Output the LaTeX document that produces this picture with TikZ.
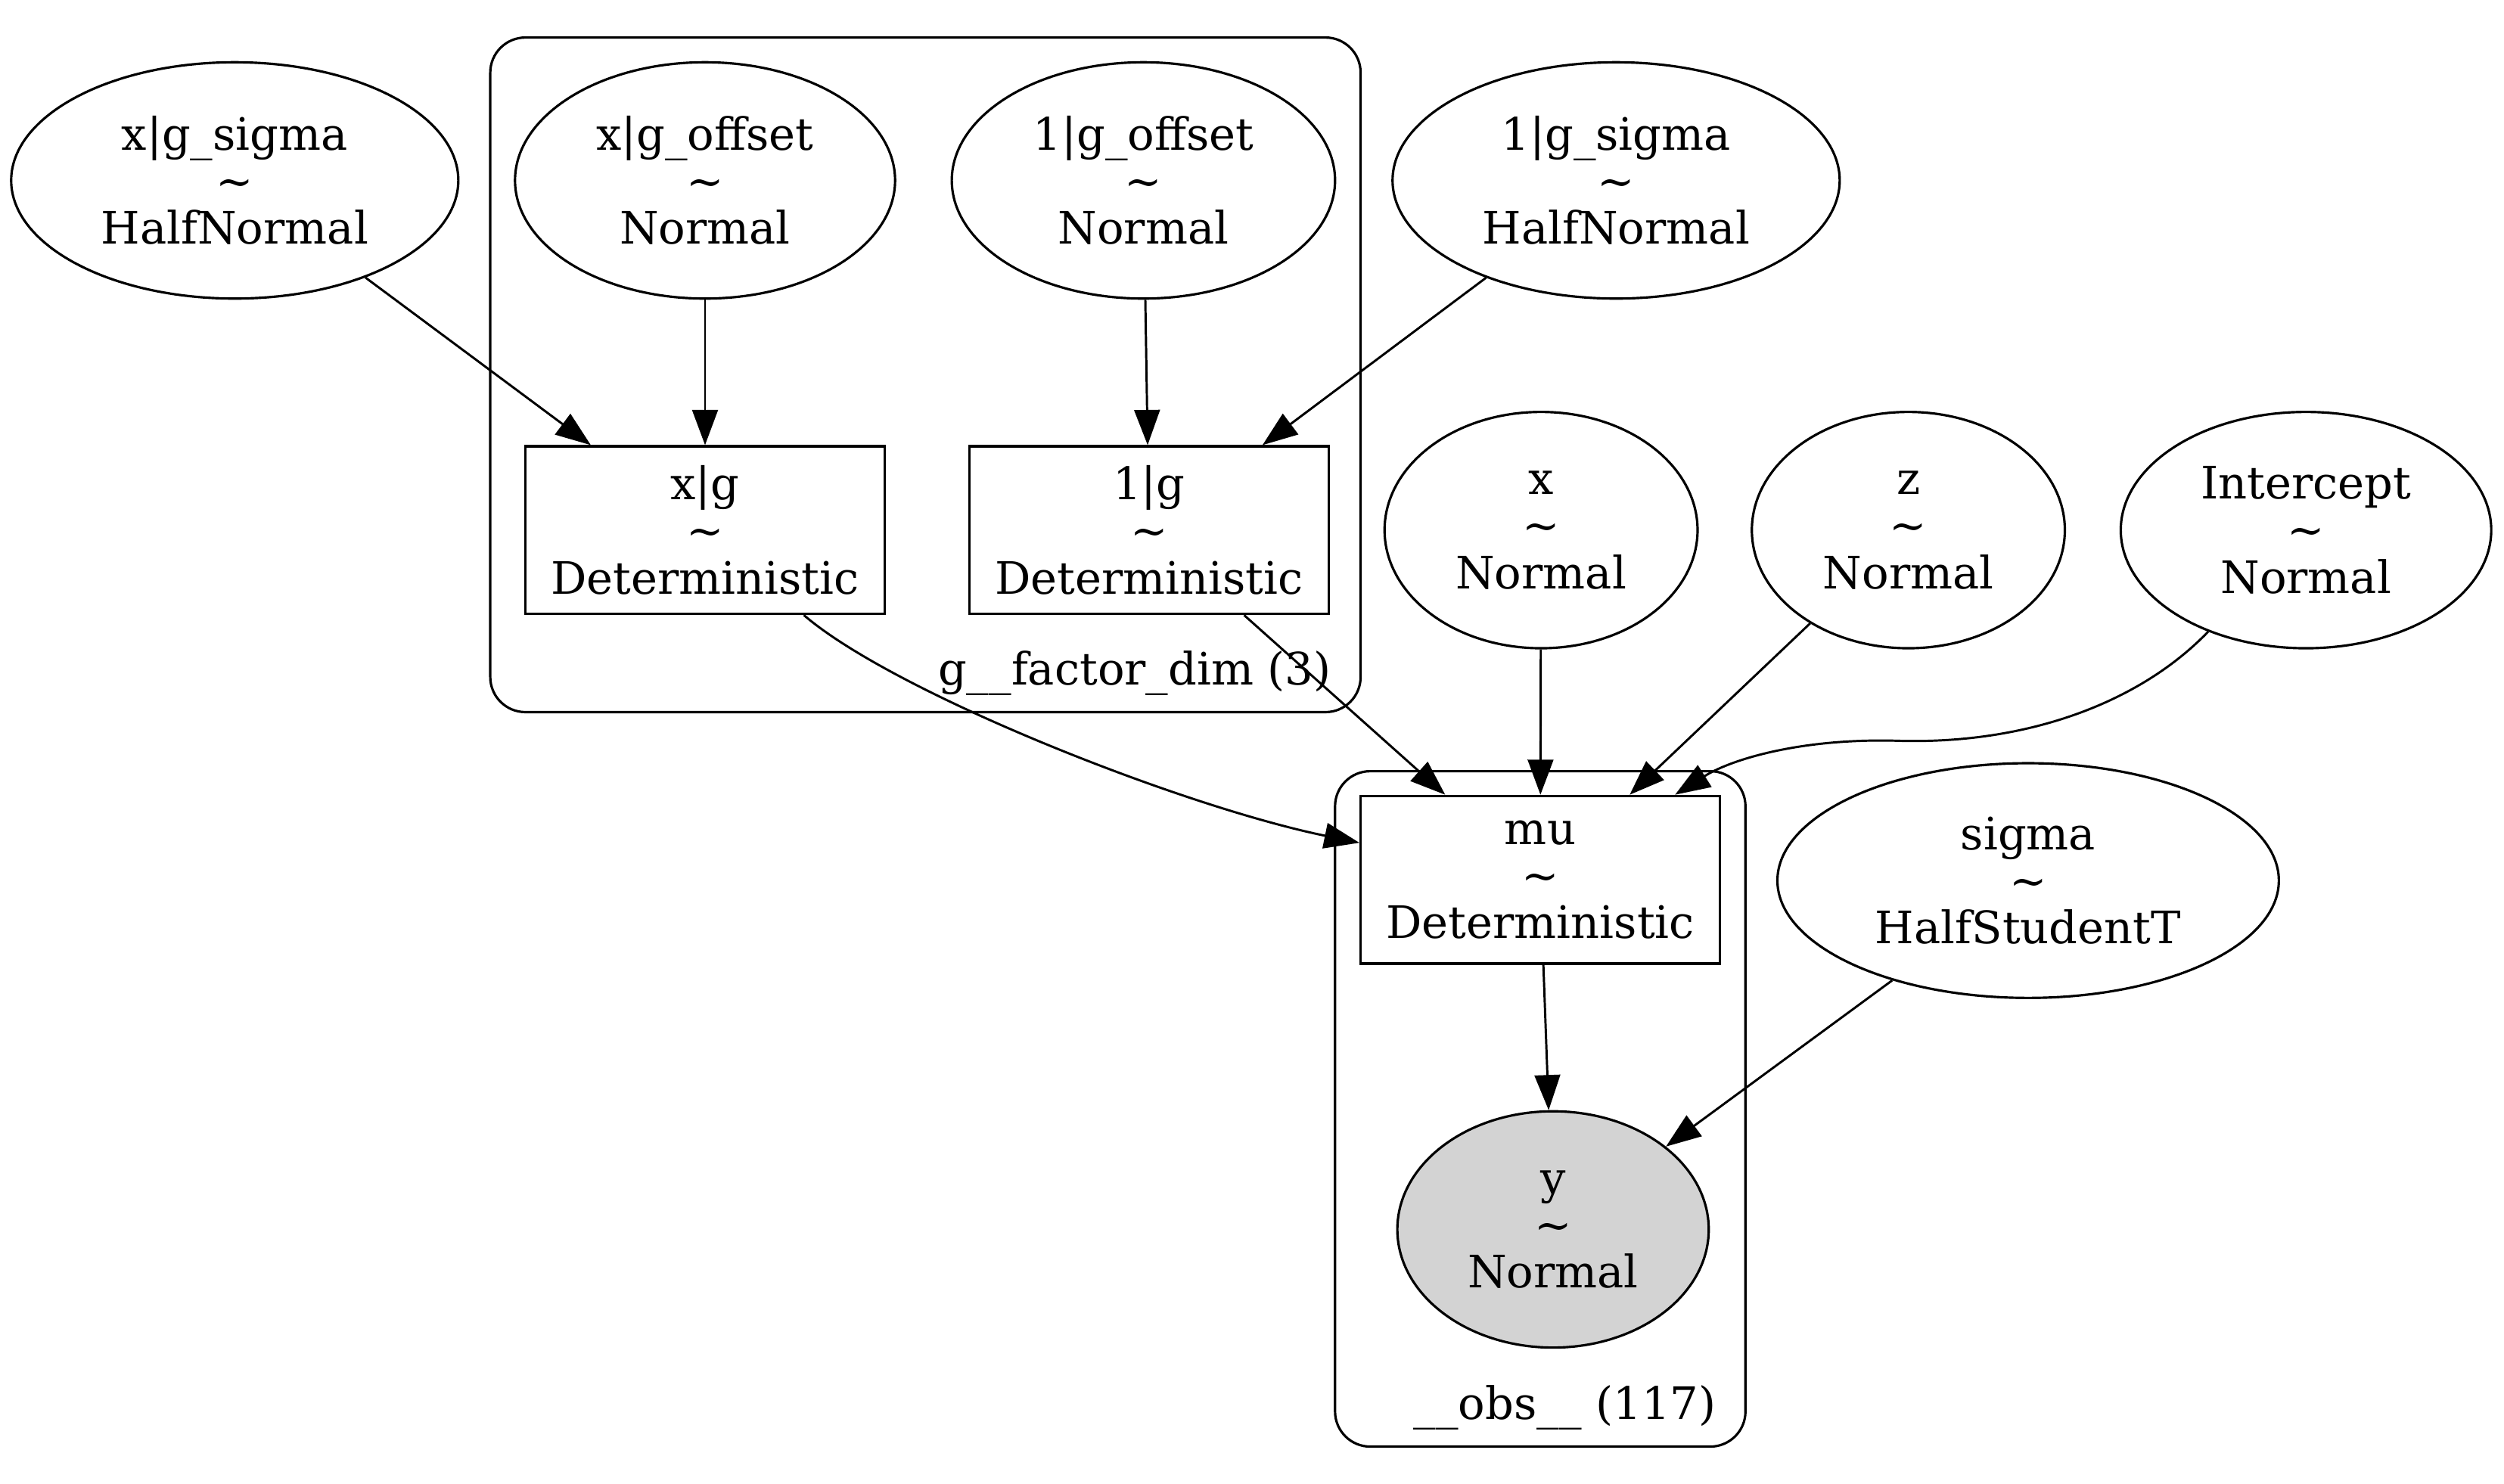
\documentclass[tikz,border=0pt]{standalone}
\usepackage{fontspec}
\setmainfont{DejaVu Serif}
\usetikzlibrary{shapes.geometric,arrows.meta}
\definecolor{obsgray}{RGB}{211,211,211}
\newcommand\dtxt[2]{#1\\\textasciitilde\\#2}
\tikzset{
  rv/.style={ellipse, draw, line width=0.75pt, inner sep=0pt, align=center, minimum height=74pt},
  detbox/.style={rectangle, draw, line width=0.75pt, inner sep=0pt, align=center, minimum width=112.5pt, minimum height=52.5pt},
  plate/.style={draw, rounded corners=11pt, line width=0.75pt},
  edge/.style={-{Triangle[length=11pt,width=8pt]}, line width=0.7pt},
  platelabel/.style={anchor=base east, inner sep=0pt}
}
\begin{document}
\begin{tikzpicture}[x=0.5pt,y=-0.5pt,font=\fontsize{14}{14.75}\selectfont]
\useasboundingbox (0,0) rectangle (1568,929);
% plates
\draw[plate] (307,23.5) rectangle (852,446);
\draw[plate] (836,483) rectangle (1093,906);
\node[platelabel] (lg) at (834,429) {g\_\_factor\_dim (3)};
\node[platelabel] (lo) at (1075,889) {\_\_obs\_\_ (117)};
% nodes
\node[rv, minimum width=140pt] (xgs) at (147,113) {\dtxt{x\textbar g\_sigma}{HalfNormal}};
\node[rv, minimum width=119pt] (xgo) at (441.5,113) {\dtxt{x\textbar g\_offset}{Normal}};
\node[rv, minimum width=120pt] (ogo) at (716,113) {\dtxt{1\textbar g\_offset}{Normal}};
\node[rv, minimum width=140pt] (ogs) at (1012,113) {\dtxt{1\textbar g\_sigma}{HalfNormal}};
\node[detbox] (xg) at (441.5,332) {\dtxt{x\textbar g}{Deterministic}};
\node[detbox] (og) at (719.5,332) {\dtxt{1\textbar g}{Deterministic}};
\node[rv, minimum width=98pt] (x) at (965,332) {\dtxt{x}{Normal}};
\node[rv, minimum width=98pt] (z) at (1195,332) {\dtxt{z}{Normal}};
\node[rv, minimum width=116pt] (icpt) at (1444,332) {\dtxt{Intercept}{Normal}};
\node[detbox] (mu) at (964.5,551) {\dtxt{mu}{Deterministic}};
\node[rv, minimum width=157pt, minimum height=73.5pt] (sig) at (1270,551.5) {\dtxt{sigma}{HalfStudentT}};
\node[rv, fill=obsgray, minimum width=97.5pt] (y) at (972.5,770) {\dtxt{y}{Normal}};
% edges
\draw[edge] (xgs) -- (xg);
\draw[edge] (xgo) -- (xg);
\draw[edge] (ogo) -- (og);
\draw[edge] (ogs) -- (og);
\draw[edge] (xg) .. controls (560,434) and (740,505) .. (mu);
\draw[edge] (og) -- (mu);
\draw[edge] (x) -- (mu);
\draw[edge] (z) -- (mu);
\draw[edge] (icpt) .. controls (1340,440) and (1270,466) .. (1190,464) .. controls (1130,462) and (1085,475) .. (mu);
\draw[edge] (mu) -- (y);
\draw[edge] (sig) -- (y);
\end{tikzpicture}
\end{document}
